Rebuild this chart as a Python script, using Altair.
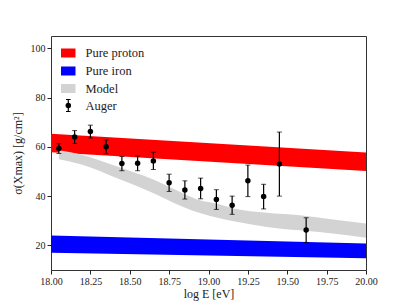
import altair as alt
import pandas as pd

# Auger data
auger_logE = [18.05, 18.15, 18.25, 18.35, 18.45, 18.55, 18.65, 18.75, 18.85, 18.95,
              19.05, 19.15, 19.25, 19.35, 19.45, 19.62]
auger_sigma = [59.3, 64.0, 66.2, 60.0, 53.2, 53.3, 54.3, 45.4, 42.5, 43.1,
               38.6, 36.3, 46.2, 39.8, 53.0, 26.2]
auger_err = [2.0, 2.6, 2.6, 2.8, 2.9, 3.0, 3.5, 3.5, 3.7, 4.2,
             4.0, 3.7, 6.4, 5.0, 13.0, 5.0]

# Pure proton / pure iron bands (straight)
band_logE = [18.0, 20.0]
proton_lo = [57.8, 50.2]
proton_hi = [65.3, 57.7]
iron_lo = [17.0, 14.8]
iron_hi = [24.0, 20.8]

# Model band
model_logE = [18.05, 18.2, 18.42, 18.63, 18.84, 18.95, 19.05, 19.16, 19.37, 19.58, 19.79, 20.0]
model_lo = [55.0, 52.7, 47.2, 41.8, 35.6, 33.0, 31.3, 29.8, 27.5, 26.1, 24.8, 23.1]
model_hi = [58.6, 56.7, 52.0, 47.2, 41.1, 38.2, 37.0, 35.0, 33.2, 32.2, 30.5, 28.9]

x_ticks = [18.0, 18.25, 18.5, 18.75, 19.0, 19.25, 19.5, 19.75, 20.0]
y_ticks = [20, 40, 60, 80, 100]

legend_labels = ["Pure proton", "Pure iron", "Model", "Auger"]
legend_colors = ["#ff0000", "#0000ff", "#d3d3d3", "#000000"]

FONT = "Liberation Serif"

xscale = alt.Scale(domain=[18.0, 20.0], nice=False, zero=False)
yscale = alt.Scale(domain=[10, 105], nice=False, zero=False)

xaxis = alt.Axis(title="log E [eV]", values=x_ticks, tickCount=9,
                 format=".2f", grid=False, domain=False, tickColor="#222", tickSize=4,
                 labelOverlap=False, labelFlush=False,
                 labelFont=FONT, labelFontSize=10, labelColor="#222", titleFont=FONT,
                 titleFontSize=12, titleFontWeight="normal", titleColor="#222", titlePadding=2,
                 labelPadding=2)
yaxis = alt.Axis(title="σ(Xmax) [g/cm²]", values=y_ticks, grid=False, domain=False,
                 tickColor="#222", tickSize=4, labelFont=FONT, labelFontSize=10, labelColor="#222",
                 labelOverlap=False,
                 titleFont=FONT, titleFontSize=12, titleFontWeight="normal", titleColor="#222",
                 titlePadding=6, labelPadding=2)


def X(field):
    return alt.X(field, type="quantitative", scale=xscale, axis=xaxis)


def Y(field):
    return alt.Y(field, type="quantitative", scale=yscale, axis=yaxis)


band_df = pd.DataFrame({"logE": band_logE, "plo": proton_lo, "phi": proton_hi,
                        "ilo": iron_lo, "ihi": iron_hi})
model_df = pd.DataFrame({"logE": model_logE, "lo": model_lo, "hi": model_hi})
auger_df = pd.DataFrame({"logE": auger_logE, "s": auger_sigma, "e": auger_err})
auger_df["lo"] = auger_df["s"] - auger_df["e"]
auger_df["hi"] = auger_df["s"] + auger_df["e"]

base_band = alt.Chart(band_df)
proton = base_band.mark_area(color="#ff0000", opacity=1).encode(
    x=X("logE"), y=Y("plo"), y2="phi:Q")
iron = base_band.mark_area(color="#0000ff", opacity=1).encode(
    x=X("logE"), y=Y("ilo"), y2="ihi:Q")
model = alt.Chart(model_df).mark_area(color="#d3d3d3", opacity=1, interpolate="monotone").encode(
    x=X("logE"), y=Y("lo"), y2="hi:Q")

ab = alt.Chart(auger_df)
rules = ab.mark_rule(color="black", strokeWidth=1.2).encode(
    x=X("logE"), y=Y("lo"), y2="hi:Q")
cap_lo = ab.mark_tick(color="black", orient="horizontal", size=5, thickness=1).encode(
    x=X("logE"), y=Y("lo"))
cap_hi = ab.mark_tick(color="black", orient="horizontal", size=5, thickness=1).encode(
    x=X("logE"), y=Y("hi"))
pts = ab.mark_circle(color="black", size=30, opacity=1).encode(x=X("logE"), y=Y("s"))

# Manual legend (top-left inside plot)
one = pd.DataFrame({"a": [0]})
leg_layers = []
row_y = [17, 35, 52.5, 69.5]
for i in range(3):
    leg_layers.append(alt.Chart(one).mark_rect(color=legend_colors[i], opacity=1).encode(
        x=alt.value(10), x2=alt.value(24.5), y=alt.value(row_y[i] - 4.5), y2=alt.value(row_y[i] + 4.5)))
leg_layers.append(alt.Chart(one).mark_rule(color="black", strokeWidth=1.2).encode(
    x=alt.value(17.3), y=alt.value(row_y[3] - 6), y2=alt.value(row_y[3] + 6)))
for dy in (-6, 6):
    leg_layers.append(alt.Chart(one).mark_rule(color="black", strokeWidth=1).encode(
        x=alt.value(15), x2=alt.value(19.6), y=alt.value(row_y[3] + dy)))
leg_layers.append(alt.Chart(one).mark_circle(color="black", size=30, opacity=1).encode(
    x=alt.value(17.3), y=alt.value(row_y[3])))
for i in range(4):
    leg_layers.append(alt.Chart(one).mark_text(text=legend_labels[i], align="left", baseline="middle",
                                               font=FONT, fontSize=12.5, color="#222").encode(
        x=alt.value(34.5), y=alt.value(row_y[i])))

chart = alt.layer(proton, iron, model, rules, cap_lo, cap_hi, pts, *leg_layers).properties(
    width=315, height=234,
    autosize=alt.AutoSizeParams(type="none"),
    padding={"left": 43, "top": 28, "right": 26, "bottom": 40},
).configure_view(stroke="#333", strokeWidth=1)

chart.save("out.html", embed_options={"renderer": "svg", "actions": False})
